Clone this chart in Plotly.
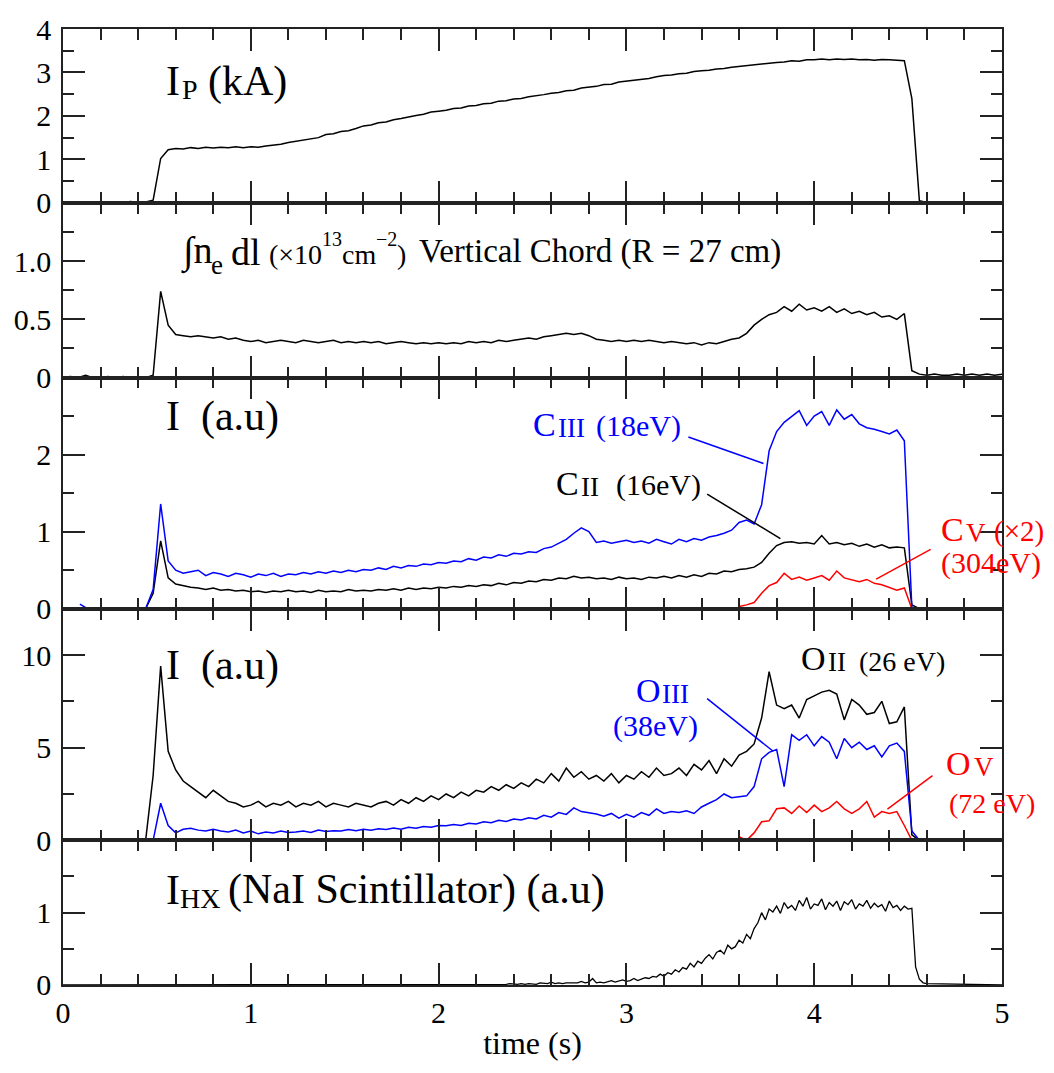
import numpy as np
import plotly.graph_objects as go
from plotly.subplots import make_subplots

# ---------------- data ----------------
T_FULL = np.round(np.arange(0.0, 5.0001, 0.04), 2)          # 126 samples
IP = [0.01, 0.00, 0.02, 0.01, 0.00, 0.02, 0.01, 0.02, 0.01, 0.03,
      0.01, 0.02, 0.06, 1.02, 1.22, 1.25, 1.24, 1.27, 1.25, 1.28,
      1.26, 1.28, 1.27, 1.29, 1.27, 1.29, 1.28, 1.31, 1.33, 1.35,
      1.39, 1.42, 1.44, 1.48, 1.50, 1.57, 1.59, 1.64, 1.66, 1.71,
      1.77, 1.79, 1.84, 1.86, 1.91, 1.94, 1.98, 2.01, 2.04, 2.09,
      2.11, 2.13, 2.17, 2.18, 2.23, 2.24, 2.28, 2.29, 2.34, 2.35,
      2.39, 2.40, 2.44, 2.46, 2.49, 2.52, 2.54, 2.58, 2.59, 2.64,
      2.66, 2.68, 2.72, 2.73, 2.78, 2.80, 2.82, 2.85, 2.86, 2.90,
      2.93, 2.94, 2.97, 2.98, 3.02, 3.04, 3.05, 3.08, 3.09, 3.12,
      3.14, 3.15, 3.18, 3.19, 3.22, 3.23, 3.24, 3.27, 3.26, 3.29,
      3.29, 3.31, 3.29, 3.31, 3.30, 3.31, 3.29, 3.30, 3.28, 3.30,
      3.29, 3.28, 3.27, 2.40, 0.05, 0.01, 0.00, 0.01, 0.00, 0.00,
      0.01, 0.00, 0.00, 0.01, 0.00, 0.00]
NE = [0.00, 0.01, 0.00, 0.02, 0.00, 0.00, 0.01, 0.00, 0.01, 0.00,
      0.00, 0.00, 0.02, 0.74, 0.45, 0.37, 0.36, 0.35, 0.36, 0.35,
      0.34, 0.35, 0.33, 0.34, 0.32, 0.31, 0.32, 0.30, 0.31, 0.32,
      0.31, 0.30, 0.32, 0.31, 0.30, 0.31, 0.32, 0.30, 0.31, 0.30,
      0.31, 0.30, 0.31, 0.29, 0.30, 0.31, 0.30, 0.29, 0.30, 0.29,
      0.30, 0.29, 0.30, 0.29, 0.31, 0.30, 0.31, 0.30, 0.32, 0.31,
      0.32, 0.33, 0.34, 0.33, 0.35, 0.36, 0.37, 0.38, 0.37, 0.38,
      0.36, 0.33, 0.32, 0.31, 0.32, 0.31, 0.32, 0.31, 0.32, 0.31,
      0.30, 0.31, 0.30, 0.29, 0.30, 0.28, 0.30, 0.29, 0.31, 0.33,
      0.34, 0.38, 0.45, 0.50, 0.54, 0.56, 0.61, 0.57, 0.63, 0.58,
      0.60, 0.57, 0.61, 0.56, 0.59, 0.55, 0.57, 0.54, 0.56, 0.52,
      0.53, 0.50, 0.55, 0.06, 0.03, 0.02, 0.03, 0.02, 0.02, 0.03,
      0.02, 0.03, 0.02, 0.03, 0.02, 0.03]

T_SPEC = np.round(np.arange(0.44, 4.5601, 0.04), 2)          # 104 samples
C3 = [0.00, 0.25, 1.36, 0.62, 0.50, 0.46, 0.48, 0.50, 0.43, 0.47,
      0.45, 0.42, 0.46, 0.44, 0.41, 0.45, 0.43, 0.46, 0.42, 0.45,
      0.44, 0.47, 0.45, 0.48, 0.46, 0.49, 0.47, 0.50, 0.48, 0.51,
      0.50, 0.53, 0.51, 0.55, 0.53, 0.56, 0.55, 0.58, 0.57, 0.60,
      0.59, 0.62, 0.61, 0.65, 0.63, 0.67, 0.66, 0.70, 0.68, 0.72,
      0.71, 0.74, 0.73, 0.78, 0.80, 0.85, 0.90, 0.98, 1.05, 1.00,
      0.86, 0.88, 0.85, 0.87, 0.89, 0.86, 0.88, 0.85, 0.90, 0.87,
      0.84, 0.90, 0.87, 0.91, 0.89, 0.93, 0.95, 0.98, 1.02, 1.12,
      1.15, 1.10, 1.35, 2.05, 2.30, 2.42, 2.50, 2.57, 2.38, 2.50,
      2.56, 2.38, 2.58, 2.46, 2.52, 2.40, 2.35, 2.33, 2.30, 2.27,
      2.32, 2.18, 0.02, 0.00]
C2 = [0.00, 0.20, 0.88, 0.40, 0.32, 0.30, 0.28, 0.27, 0.25, 0.27,
      0.24, 0.25, 0.23, 0.24, 0.22, 0.23, 0.21, 0.23, 0.22, 0.24,
      0.22, 0.23, 0.21, 0.24, 0.22, 0.23, 0.22, 0.25, 0.23, 0.24,
      0.23, 0.25, 0.24, 0.26, 0.24, 0.27, 0.25, 0.27, 0.26, 0.28,
      0.27, 0.29, 0.28, 0.30, 0.29, 0.31, 0.30, 0.33, 0.31, 0.34,
      0.33, 0.36, 0.35, 0.38, 0.37, 0.40, 0.39, 0.42, 0.40, 0.41,
      0.39, 0.40, 0.38, 0.41, 0.39, 0.40, 0.38, 0.41, 0.40, 0.42,
      0.40, 0.43, 0.41, 0.44, 0.42, 0.46, 0.45, 0.49, 0.48, 0.51,
      0.52, 0.54, 0.60, 0.72, 0.82, 0.86, 0.87, 0.85, 0.86, 0.84,
      0.95, 0.84, 0.86, 0.83, 0.85, 0.81, 0.84, 0.80, 0.83, 0.79,
      0.80, 0.79, 0.05, 0.00]
O2 = [0.0, 3.5, 9.4, 4.8, 3.8, 3.2, 2.9, 2.6, 2.3, 2.7,
      2.4, 2.1, 2.0, 1.8, 1.9, 2.1, 1.8, 2.0, 1.9, 2.1,
      1.8, 2.0, 1.9, 2.1, 1.8, 2.0, 1.9, 1.8, 2.0, 1.9,
      1.8, 2.0, 2.1, 1.9, 2.2, 2.0, 2.3, 2.1, 2.4, 2.2,
      2.5, 2.3, 2.6, 2.4, 2.7, 2.6, 2.9, 2.7, 3.0, 2.8,
      3.1, 2.9, 3.3, 3.1, 3.6, 3.2, 3.9, 3.4, 3.7, 3.3,
      3.5, 3.2, 3.6, 3.1, 3.5, 3.3, 3.7, 3.4, 3.9, 3.5,
      3.6, 3.9, 3.5, 4.1, 3.8, 4.3, 3.6, 4.4, 4.0, 4.6,
      4.8, 5.2, 6.6, 9.1, 7.3, 7.1, 7.3, 6.6, 7.6, 7.8,
      8.0, 8.1, 7.9, 6.5, 7.6, 7.3, 6.8, 6.9, 7.5, 6.3,
      6.4, 7.2, 0.3, 0.0]
O3 = [0.00, 0.00, 2.00, 0.80, 0.40, 0.60, 0.65, 0.55, 0.50, 0.60,
      0.50, 0.45, 0.55, 0.40, 0.50, 0.35, 0.45, 0.40, 0.50, 0.42,
      0.45, 0.50, 0.42, 0.55, 0.48, 0.52, 0.50, 0.58, 0.52, 0.60,
      0.55, 0.62, 0.58, 0.66, 0.60, 0.70, 0.65, 0.75, 0.70, 0.80,
      0.78, 0.85, 0.80, 0.92, 0.88, 1.00, 0.95, 1.08, 1.02, 1.15,
      1.10, 1.22, 1.15, 1.35, 1.25, 1.50, 1.40, 1.75, 1.55, 1.50,
      1.42, 1.30, 1.45, 1.20, 1.40, 1.25, 1.50, 1.35, 1.70, 1.45,
      1.55, 1.50, 1.60, 1.45, 1.80, 2.00, 2.20, 2.50, 2.30, 2.35,
      2.40, 2.90, 4.40, 4.75, 4.90, 2.90, 5.70, 5.40, 5.70, 5.10,
      5.60, 5.30, 4.40, 5.50, 5.00, 5.30, 4.90, 5.10, 4.50, 5.10,
      5.25, 4.80, 0.50, 0.00]

T_HOT = np.round(np.arange(3.60, 4.5201, 0.04), 2)           # 24 samples
C5 = [0.03, 0.05, 0.08, 0.20, 0.30, 0.34, 0.46, 0.38, 0.41, 0.37,
      0.40, 0.43, 0.37, 0.49, 0.40, 0.37, 0.35, 0.38, 0.33, 0.31,
      0.27, 0.24, 0.27, 0.00]
O5 = [0.20, 0.00, 0.40, 1.00, 1.05, 1.70, 1.75, 1.45, 1.85, 1.50,
      1.90, 1.55, 1.75, 2.10, 1.70, 1.45, 1.70, 2.10, 1.25, 1.55,
      1.45, 1.55, 0.80, 0.00]

T_HX = np.round(np.arange(2.30, 4.6001, 0.02), 2)            # 116 samples
HX = [0.00, 0.01, 0.00, 0.01, 0.02, 0.01, 0.01, 0.02, 0.01, 0.02,
      0.02, 0.01, 0.03, 0.02, 0.02, 0.04, 0.02, 0.03, 0.02, 0.03,
      0.03, 0.04, 0.03, 0.05, 0.03, 0.04, 0.09, 0.03, 0.04, 0.03,
      0.04, 0.06, 0.04, 0.05, 0.07, 0.05, 0.06, 0.09, 0.06, 0.08,
      0.10, 0.09, 0.12, 0.11, 0.15, 0.12, 0.17, 0.15, 0.21, 0.18,
      0.24, 0.22, 0.30, 0.25, 0.33, 0.30, 0.37, 0.42, 0.36, 0.45,
      0.48, 0.43, 0.55, 0.50, 0.53, 0.62, 0.58, 0.70, 0.64, 0.78,
      0.86, 1.00, 0.90, 1.05, 1.01, 1.09, 0.99, 1.14, 1.06, 1.10,
      1.03, 1.17, 1.09, 1.21, 1.05, 1.12, 1.10, 1.19, 1.04, 1.14,
      1.09, 1.16, 1.03, 1.15, 1.11, 1.18, 1.05, 1.12, 1.09, 1.17,
      1.06, 1.13, 1.08, 1.11, 1.02, 1.16, 1.07, 1.10, 1.03, 1.09,
      1.05, 1.06, 0.25, 0.08, 0.03, 0.02]

# short flat stretches outside the main sampling windows
EARLY_T = [0.09, 0.13]
C3_EARLY = [0.06, 0.00]
O3_EARLY = [0.00, 0.00]
LATE_T = [4.96]
LATE_ZERO = [0.00]
HX_EDGE_T = [0.00, 5.00]
HX_EDGE = [0.00, 0.00]

# ---------------- figure ----------------
FONT = "Liberation Serif, Times New Roman, DejaVu Serif, serif"
BLUE, RED, BLACK = "#0000ff", "#ff0000", "#000000"
AX = "#222222"

fig = make_subplots(rows=5, cols=1, shared_xaxes=True, vertical_spacing=0,
                    row_heights=[176, 177, 234, 234.5, 146.5])

def line(x, y, color, row, w=1.5):
    fig.add_trace(go.Scatter(x=list(x), y=list(y), mode="lines",
                             line=dict(color=color, width=w), showlegend=False,
                             hoverinfo="skip"), row=row, col=1)

line(T_FULL, IP, BLACK, 1)
line(T_FULL, NE, BLACK, 2)
line(list(T_SPEC) + LATE_T, C2 + LATE_ZERO, BLACK, 3)
line(T_HOT, C5, RED, 3)
line(EARLY_T + list(T_SPEC) + LATE_T, C3_EARLY + C3 + LATE_ZERO, BLUE, 3)
line(list(T_SPEC), O2, BLACK, 4)
line(T_HOT, O5, RED, 4)
line(EARLY_T + list(T_SPEC) + LATE_T, O3_EARLY + O3 + LATE_ZERO, BLUE, 4)
line([HX_EDGE_T[0]] + list(T_HX) + [HX_EDGE_T[1]], [HX_EDGE[0]] + HX + [HX_EDGE[1]], BLACK, 5, w=1.3)

# axes
X_MAJOR = [0, 1, 2, 3, 4, 5]
X_MINOR = [round(0.2 * i, 1) for i in range(26) if i % 5]
for r in range(1, 6):
    fig.update_xaxes(range=[0, 5], showline=True, linecolor=AX, linewidth=1.6,
                     mirror="allticks", ticks="inside", ticklen=22, tickwidth=1.5,
                     tickcolor=AX, tickmode="array", tickvals=X_MAJOR,
                     minor=dict(tickmode="array", tickvals=X_MINOR, ticks="inside",
                                ticklen=11, tickwidth=1.5, tickcolor=AX),
                     showgrid=False, zeroline=False,
                     showticklabels=(r == 5),
                     tickfont=dict(family=FONT, size=30, color="black"),
                     row=r, col=1)
fig.update_xaxes(title=dict(text="time (s)", font=dict(family=FONT, size=32, color="black"),
                            standoff=4), row=5, col=1)

Y_SPECS = [
    ([0, 4], [0, 1, 2, 3, 4], ["0", "1", "2", "3", "4"], [0.5, 1.5, 2.5, 3.5]),
    ([0, 1.5], [0, 0.5, 1.0], ["0", "0.5", "1.0"], [0.25, 0.75, 1.25]),
    ([0, 3], [0, 1, 2], ["0", "1", "2"], [0.5, 1.5, 2.5]),
    ([0, 12.5], [0, 5, 10], ["0", "5", "10"], [2.5, 7.5]),
    ([0, 2], [0, 1], ["0", "1"], [0.5, 1.5]),
]
for r, (rng, tv, tt, mv) in enumerate(Y_SPECS, start=1):
    fig.update_yaxes(range=rng, showline=True, linecolor=AX, linewidth=1.6,
                     mirror="allticks", ticks="inside", ticklen=22, tickwidth=1.5,
                     tickcolor=AX, tickmode="array", tickvals=tv, ticktext=tt,
                     minor=dict(tickmode="array", tickvals=mv, ticks="inside",
                                ticklen=11, tickwidth=1.5, tickcolor=AX),
                     showgrid=False, zeroline=False,
                     tickfont=dict(family=FONT, size=30, color="black"),
                     ticklabelstandoff=4, row=r, col=1)

def note(text, x, y, ax_i, color="black", size=30, xanchor="left", yanchor="middle"):
    sfx = "" if ax_i == 1 else str(ax_i)
    fig.add_annotation(text=text, x=x, y=y, xref="x" + sfx, yref="y" + sfx,
                       showarrow=False, xanchor=xanchor, yanchor=yanchor,
                       borderpad=0, font=dict(family=FONT, size=size, color=color))

def leader(x0, y0, x1, y1, ax_i, color):
    sfx = "" if ax_i == 1 else str(ax_i)
    fig.add_shape(type="line", x0=x0, y0=y0, x1=x1, y1=y1, xref="x" + sfx,
                  yref="y" + sfx, line=dict(color=color, width=1.5))

# panel titles (sub/superscripts drawn as separate smaller texts)
TITLE, SUB = 42, 28
note("I", 0.543, 2.80, 1, size=TITLE)
note("P", 0.628, 2.60, 1, size=SUB)
note("(kA)", 0.767, 2.80, 1, size=TITLE)

note("∫n", 0.623, 1.08, 2, size=38)
note("e", 0.783, 0.97, 2, size=27)
note("dl", 0.889, 1.08, 2, size=38)
note("(×10", 1.092, 1.055, 2, size=28)
note("13", 1.373, 1.19, 2, size=20)
note("cm", 1.480, 1.055, 2, size=28)
note("−2", 1.661, 1.19, 2, size=20)
note(")", 1.773, 1.055, 2, size=28)
note("Vertical Chord (R = 27 cm)", 1.89, 1.08, 2, size=33)

note("I\u00a0\u00a0(a.u)", 0.543, 2.49, 3, size=TITLE)
note("I\u00a0\u00a0(a.u)", 0.543, 9.46, 4, size=TITLE)

note("I", 0.543, 1.32, 5, size=TITLE)
note("HX", 0.620, 1.19, 5, size=SUB)
note("(NaI Scintillator) (a.u)", 0.873, 1.32, 5, size=TITLE)

# line labels: big element letter + smaller ion stage + energy
BIG, SMALL, ENERGY = 34, 27, 30
note("C", 2.497, 2.14, 3, color=BLUE, size=BIG, yanchor="bottom")
note("III", 2.630, 2.14, 3, color=BLUE, size=SMALL, yanchor="bottom")
note("(18eV)", 2.833, 2.14, 3, color=BLUE, size=ENERGY, yanchor="bottom")
note("C", 2.620, 1.37, 3, color=BLACK, size=BIG, yanchor="bottom")
note("II", 2.753, 1.37, 3, color=BLACK, size=SMALL, yanchor="bottom")
note("(16eV)", 2.939, 1.37, 3, color=BLACK, size=ENERGY, yanchor="bottom")
note("C", 4.670, 0.78, 3, color=RED, size=BIG, yanchor="bottom")
note("V", 4.803, 0.78, 3, color=RED, size=SMALL, yanchor="bottom")
note("(×2)", 4.950, 0.78, 3, color=RED, size=29, yanchor="bottom")
note("(304eV)", 4.670, 0.36, 3, color=RED, size=ENERGY, yanchor="bottom")
leader(3.33, 2.23, 3.73, 1.885, 3, BLUE)
leader(3.43, 1.487, 3.82, 0.91, 3, BLACK)
leader(4.62, 0.77, 4.33, 0.385, 3, RED)

note("O", 3.924, 8.77, 4, color=BLACK, size=BIG, yanchor="bottom")
note("II", 4.068, 8.77, 4, color=BLACK, size=SMALL, yanchor="bottom")
note("(26 eV)", 4.233, 8.77, 4, color=BLACK, size=28, yanchor="bottom")
note("O", 3.046, 7.05, 4, color=BLUE, size=BIG, yanchor="bottom")
note("III", 3.184, 7.05, 4, color=BLUE, size=SMALL, yanchor="bottom")
note("(38eV)", 2.923, 5.20, 4, color=BLUE, size=ENERGY, yanchor="bottom")
note("O", 4.696, 3.10, 4, color=RED, size=BIG, yanchor="bottom")
note("V", 4.845, 3.10, 4, color=RED, size=SMALL, yanchor="bottom")
note("(72 eV)", 4.712, 1.12, 4, color=RED, size=28, yanchor="bottom")
leader(3.43, 7.645, 3.78, 4.82, 4, BLUE)
leader(4.63, 3.49, 4.39, 1.68, 4, RED)

fig.update_layout(width=1054, height=1073, margin=dict(l=63, r=52, t=17, b=88),
                  paper_bgcolor="white", plot_bgcolor="white",
                  font=dict(family=FONT, color="black"), showlegend=False)

fig.write_html("out.html")
